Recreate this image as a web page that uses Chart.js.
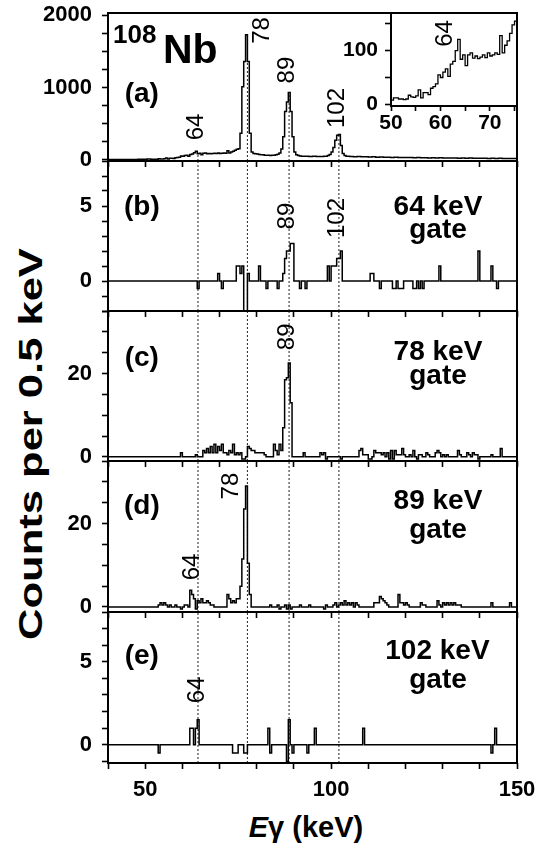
<!DOCTYPE html>
<html>
<head>
<meta charset="utf-8">
<script src="https://cdn.jsdelivr.net/npm/chart.js@4/dist/chart.umd.min.js"></script>
<style>
  body { margin: 0; background: #fff; width: 537px; height: 848px; position: relative; overflow: hidden;
         font-family: "Liberation Sans", Arial, sans-serif; }
  canvas { position: absolute; }
  #ytitle { position: absolute; left: 30px; top: 444px; white-space: nowrap; font-weight: bold; font-size: 34px;
            transform: translate(-50%, -50%) rotate(-90deg) scaleX(1.28); }
  #xtitle { position: absolute; left: 306px; top: 827px; white-space: nowrap; font-weight: bold; font-size: 29px;
            transform: translate(-50%, -50%); }
</style>
</head>
<body>
<div id="ytitle">Counts per 0.5 keV</div>
<div id="xtitle"><i>E</i>γ (keV)</div>
<script>
// gamma lines marked with dotted lines (keV)
const lineEnergies = [64.2, 77.5, 88.7, 102.1];

// (a) singles spectrum: each count holds from its edge to the next edge
const singlesEdges = [40, 42, 44, 46, 48,
  50, 50.5, 51, 51.5, 52, 52.5, 53, 53.5, 54, 54.5, 55, 55.5, 56, 56.5, 57, 57.5, 58, 58.5, 59, 59.5,
  60, 60.5, 61, 61.5, 62, 62.5, 63, 63.5, 64, 64.5, 65, 65.5, 66, 66.5, 67, 67.5, 68, 68.5, 69, 69.5,
  70, 70.5, 71, 71.5, 72, 72.5, 73, 73.5, 74, 74.5, 75, 75.5, 76, 76.5, 77, 77.5, 78, 78.5, 79, 79.5,
  80, 80.5, 81, 81.5, 82, 82.5, 83, 83.5, 84, 84.5, 85, 85.5, 86, 86.5, 87, 87.5, 88, 88.5, 89, 89.5,
  90, 90.5, 91, 91.5, 92, 92.5, 93, 94, 95, 96, 97, 98, 99, 99.5,
  100, 100.5, 101, 101.5, 102, 102.5, 103, 103.5, 104, 105, 106, 107, 108, 109,
  110, 111, 112, 113, 114, 115, 116, 117, 118, 119, 120, 121, 122, 123, 124, 125, 126, 127, 128, 129,
  130, 131, 132, 133, 134, 135, 136, 137, 138, 139, 140, 141, 142, 143, 144, 145, 146, 147, 148, 149];
const singlesCounts = [5, 6, 7, 6, 8,
  8, 12, 12, 10, 10, 9, 10, 17, 14, 13, 16, 27, 12, 22, 22, 18, 30, 33, 38, 55,
  50, 60, 66, 52, 75, 80, 100, 121, 84, 92, 72, 92, 96, 86, 90, 85, 88, 92, 87, 96,
  90, 92, 96, 93, 128, 96, 110, 118, 132, 148, 155, 370, 1010, 1360, 1730, 1360, 370, 110, 90, 85,
  80, 75, 72, 70, 66, 64, 65, 62, 63, 65, 70, 78, 95, 150, 320, 670, 800, 930, 670, 320,
  110, 70, 60, 55, 52, 50, 52, 48, 50, 46, 48, 50, 60, 75,
  110, 170, 270, 340, 350, 200, 90, 60, 50, 48, 45, 46, 42, 44,
  40, 42, 38, 40, 36, 38, 35, 36, 34, 35, 32, 34, 30, 32, 30, 31, 28, 30, 27, 29,
  26, 28, 25, 27, 24, 26, 24, 25, 22, 24, 22, 23, 21, 22, 20, 22, 20, 21, 19, 20];

// gated spectra: 0.5 keV bins (left edge) that are not zero
const gate64Bins = [64, 69.5, 70.5, 74.5, 75, 75.5, 76, 76.5, 77, 77.5, 80.5, 82.5, 85.5, 87, 87.5, 88, 88.5, 89, 89.5, 91.5,
  93, 99, 100, 100.5, 101, 101.5, 102, 102.5, 110.5, 111, 113, 116.5, 117, 118, 118.5, 119, 122, 122.5, 123.5, 124.5,
  129, 139.5, 143, 144.5];
const gate64Counts = [-0.5, 0.5, -0.5, 1, 1, 0.5, 1, -2.5, -2.5, 0.5, 1, -0.5, -0.5, 0.5, 1.5, 2, 2, 2.5, 2.5, -0.5,
  -0.5, 1, 1, 1, 1, 1.5, 1.5, 2, 0.5, 0.5, -0.5, -0.5, -0.5, -0.5, -0.5, -0.5, -0.5, -0.5, -0.5, -0.5,
  1, 2, 1, -0.5];

const gate78Bins = [59.5, 63.5, 65.5, 66, 66.5, 67, 67.5, 68, 68.5, 69, 69.5, 70, 70.5, 71, 71.5, 72, 72.5, 73, 73.5, 74,
  74.5, 75, 75.5, 76, 76.5, 77.5, 78, 78.5, 79, 79.5, 80, 80.5, 81, 81.5, 82, 84.5, 85, 85.5, 86, 86.5,
  87, 87.5, 88, 88.5, 89, 92.5, 97, 97.5, 98, 98.5, 102.5, 107.5, 108, 108.5, 109, 109.5, 110, 110.5, 111.5, 112,
  112.5, 113, 113.5, 114, 115, 115.5, 116, 116.5, 117, 117.5, 118, 118.5, 119, 119.5, 121, 122, 123, 123.5, 124, 125.5,
  126, 128, 128.5, 129, 130, 131, 134, 134.5, 136.5, 137, 138, 138.5, 139, 139.5, 143, 145.5];
const gate78Counts = [1, 0.5, 1.5, 1, 2, 1, 2.5, 1, 3, 1, 2.5, 1.5, 3, 1, 1, 0.5, 1.5, 1, 3, 0.5,
  1, 0.5, 1, -0.5, -0.5, 2.5, 2, 1.5, 1.5, 1, 1, 1, 1, 1, 0.5, 3, 1.5, 0.5, 3, 1.5,
  7, 18.5, 19, 22.5, 13, 1, 1, 0.5, 1, -0.5, -0.5, 1.5, 2, 0.5, 0.5, 0.5, -0.5, -0.5, 1.5, 1,
  1, 1, 0.5, 1, 1, -0.5, 1.5, -0.5, 1.5, 0.5, 0.5, 0.5, 2, 0.5, 0.5, 1.5, -0.5, 0.5, 0.5, 1,
  0.5, 1, 1.5, 1, 0.5, 0.5, 1.5, 0.5, 1, 0.5, 1, 0.5, 0.5, -0.5, 0.5, 2];

const gate89Bins = [53.5, 54, 54.5, 55, 55.5, 56.5, 58, 59.5, 60.5, 61, 62, 62.5, 63, 63.5, 64, 64.5, 65, 65.5, 66, 66.5,
  67, 67.5, 68, 72, 72.5, 73, 73.5, 74, 74.5, 75, 75.5, 76, 76.5, 77, 77.5, 78, 83.5, 85.5, 86, 87.5,
  88, 88.5, 89, 91.5, 94, 98, 98.5, 100.5, 101, 102, 102.5, 103, 103.5, 104, 104.5, 105, 105.5, 106.5, 107, 111.5,
  112, 112.5, 113, 113.5, 114, 114.5, 115, 118, 118.5, 119, 119.5, 120, 120.5, 124, 124.5, 125, 128.5, 129, 130, 130.5,
  131, 131.5, 132, 132.5, 133, 133.5, 134, 134.5, 143, 148];
const gate89Counts = [0.5, 1, 0.5, 1, 0.5, 0.5, 0.5, -0.5, 0.5, 0.5, 4, 3, 2, -0.5, 1.5, 1, 2, 1, 1, 1.5,
  1, 0.5, 0.5, 3, 2, 1, 1.5, 1, 2, 2, 5, 11.5, 23.5, 29, 10.5, 3, 0.5, 0.5, -0.5, 0.5,
  -0.5, 0.5, -0.5, 0.5, 0.5, -0.5, 0.5, 0.5, 1, 0.5, 1, 0.5, 1.5, 0.5, 1, 0.5, 1, 1, 0.5, 1,
  1, 1, 2.5, 2, 1.5, 1, 0.5, 3, 1, 1, 0.5, 1, 0.5, 1, 0.5, 0.5, 1.5, 0.5, 1, 0.5,
  1, 0.5, 1, 0.5, 1, 0.5, 0.5, 0.5, 1, 1];

const gate102Bins = [53.5, 62, 62.5, 63.5, 64, 73.5, 74, 74.5, 76.5, 77, 83, 83.5, 88, 88.5, 89.5, 93.5, 95.5, 108.5, 143, 144];
const gate102Counts = [-0.5, 1, 1, 1, 1.5, -0.5, -0.5, -0.5, -0.5, -0.5, 1, -0.5, -1, 1.5, -0.5, -0.5, 1, 1, -0.5, 1];

const X_MIN = 40, X_MAX = 150, BIN = 0.5;
const FONT = '"Liberation Sans", Arial, sans-serif';
Chart.defaults.font.family = FONT;
Chart.defaults.color = '#000';

function stepsFromEdges(edges, counts) {
  const pts = edges.map((e, i) => ({x: e, y: counts[i]}));
  pts.push({x: X_MAX, y: counts[counts.length - 1]});
  return pts;
}
function stepsFromBins(bins, counts) {
  const pts = [];
  for (let i = 0; i <= (X_MAX - X_MIN) / BIN; i++) {
    const e = X_MIN + i * BIN;
    const k = bins.indexOf(e);
    pts.push({x: e, y: k >= 0 ? counts[k] : 0});
  }
  return pts;
}
function countsAt(edges, counts, e) {
  let v = counts[0];
  edges.forEach((x, i) => { if (x <= e) v = counts[i]; });
  return v;
}
// tick marks every `step` inside [min, max]
function ticksEvery(step) {
  return scale => {
    const out = [];
    for (let v = Math.ceil(scale.min / step) * step; v <= scale.max + 1e-9; v += step) out.push({value: v});
    scale.ticks = out;
  };
}

const framePlugin = {
  id: 'frame',
  afterDatasetsDraw(chart) {
    const {ctx, chartArea: a} = chart;
    ctx.save();
    ctx.strokeStyle = '#000';
    ctx.lineWidth = 2;
    ctx.strokeRect(a.left, a.top, a.right - a.left, a.bottom - a.top);
    ctx.restore();
  }
};
function textPlugin(items) {
  return {
    id: 'texts',
    afterDraw(chart) {
      const ctx = chart.ctx, xs = chart.scales.x, ys = chart.scales.y;
      items.forEach(t => {
        ctx.save();
        ctx.font = t.font;
        ctx.fillStyle = '#000';
        ctx.translate(xs.getPixelForValue(t.x), ys.getPixelForValue(t.y));
        if (t.rot) ctx.rotate(-Math.PI / 2);
        ctx.textAlign = t.align || 'center';
        ctx.textBaseline = t.base || 'middle';
        ctx.fillText(t.text, 0, 0);
        ctx.restore();
      });
    }
  };
}
function placeCanvas(left, top, w, h) {
  const c = document.createElement('canvas');
  c.width = w; c.height = h;
  c.style.left = left + 'px'; c.style.top = top + 'px';
  c.style.width = w + 'px'; c.style.height = h + 'px';
  document.body.appendChild(c);
  return c;
}

const tickFont = {family: FONT, size: 22, weight: 'bold'};
const grid = {drawOnChartArea: false, drawTicks: true, tickLength: 6, tickWidth: 1.6, tickColor: '#000'};
const PEAK = 'normal 24px ' + FONT;
const TAG = 'bold 28px ' + FONT;
const PAD = 30;      // room above/below each plot box
const CW = 560;      // canvas wider than the page so the last x label never squeezes the box
const RIGHT = 517;   // right edge of every plot box

function panel(p) {
  const axisH = p.last ? 848 - p.bottom : PAD;
  const canvas = placeCanvas(0, p.top - PAD, CW, PAD + (p.bottom - p.top) + axisH);
  const markers = lineEnergies.map(e => ({
    data: [{x: e, y: p.yMin}, {x: e, y: p.markerTop ? p.markerTop(e) : p.yMax}],
    borderColor: '#333', borderWidth: 1.1, borderDash: [2, 2], pointRadius: 0, order: 1
  }));
  new Chart(canvas, {
    type: 'line',
    data: {datasets: [...markers,
      {data: p.points, stepped: true, borderColor: '#000', borderWidth: 1.5, pointRadius: 0, order: 0}]},
    options: {
      responsive: false, animation: false, devicePixelRatio: 1,
      layout: {padding: {top: PAD, right: CW - RIGHT, left: 0, bottom: 0}},
      plugins: {legend: {display: false}, tooltip: {enabled: false}},
      scales: {
        x: {
          type: 'linear', min: X_MIN, max: X_MAX,
          afterBuildTicks: ticksEvery(10),
          ticks: {display: !!p.last, font: tickFont, padding: 8, autoSkip: false, maxRotation: 0,
                  callback: v => (v % 50 === 0 ? v : '')},
          grid: grid, border: {display: false},
          afterFit: s => { s.height = axisH; }
        },
        y: {
          type: 'linear', min: p.yMin, max: p.yMax,
          afterBuildTicks: ticksEvery(p.yStep),
          ticks: {font: tickFont, padding: 10, autoSkip: false,
                  callback: v => (p.yLabels.includes(v) ? v : '')},
          grid: grid, border: {display: false},
          afterFit: s => { s.width = 108; }
        }
      }
    },
    plugins: [framePlugin, textPlugin(p.texts)]
  });
}

const singlesPts = stepsFromEdges(singlesEdges, singlesCounts);

panel({top: 13, bottom: 161, yMin: -15, yMax: 2030, yStep: 250, yLabels: [0, 1000, 2000],
  points: singlesPts, markerTop: e => countsAt(singlesEdges, singlesCounts, e),
  texts: [
    {text: '108', x: 41.34, y: 1615, font: 'bold 26px ' + FONT, align: 'left', base: 'alphabetic'},
    {text: 'Nb', x: 54.79, y: 1339, font: 'bold 41px ' + FONT, align: 'left', base: 'alphabetic'},
    {text: '(a)', x: 49.1, y: 911, font: TAG},
    {text: '64', x: 63.9, y: 455, font: PEAK, rot: true},
    {text: '78', x: 81.55, y: 1788, font: PEAK, rot: true},
    {text: '89', x: 88.28, y: 1242, font: PEAK, rot: true},
    {text: '102', x: 101.6, y: 717, font: PEAK, rot: true}
  ]});

panel({top: 161, bottom: 311, yMin: -2, yMax: 8, yStep: 1, yLabels: [0, 5],
  points: stepsFromBins(gate64Bins, gate64Counts),
  texts: [
    {text: '(b)', x: 49.1, y: 4.93, font: TAG},
    {text: '64 keV', x: 128.75, y: 4.93, font: TAG},
    {text: 'gate', x: 128.75, y: 3.35, font: TAG},
    {text: '89', x: 88.28, y: 4.33, font: PEAK, rot: true},
    {text: '102', x: 101.6, y: 4.2, font: PEAK, rot: true}
  ]});

panel({top: 311, bottom: 461, yMin: -1, yMax: 35, yStep: 5, yLabels: [0, 20],
  points: stepsFromBins(gate78Bins, gate78Counts),
  texts: [
    {text: '(c)', x: 49.1, y: 23.7, font: TAG},
    {text: '78 keV', x: 128.75, y: 25.2, font: TAG},
    {text: 'gate', x: 128.75, y: 19.4, font: TAG},
    {text: '89', x: 88.28, y: 28.8, font: PEAK, rot: true}
  ]});

panel({top: 461, bottom: 612, yMin: -1.2, yMax: 35, yStep: 5, yLabels: [0, 20],
  points: stepsFromBins(gate89Bins, gate89Counts),
  texts: [
    {text: '(d)', x: 49.1, y: 24.2, font: TAG},
    {text: '89 keV', x: 128.75, y: 25.4, font: TAG},
    {text: 'gate', x: 128.75, y: 18.5, font: TAG},
    {text: '78', x: 73.1, y: 29.0, font: PEAK, rot: true},
    {text: '64', x: 62.7, y: 9.6, font: PEAK, rot: true}
  ]});

panel({top: 612, bottom: 763, last: true, yMin: -1.1, yMax: 8, yStep: 1, yLabels: [0, 5],
  points: stepsFromBins(gate102Bins, gate102Counts),
  texts: [
    {text: '(e)', x: 49.1, y: 5.35, font: TAG},
    {text: '102 keV', x: 128.6, y: 5.65, font: TAG},
    {text: 'gate', x: 128.75, y: 3.9, font: TAG},
    {text: '64', x: 64.0, y: 3.3, font: PEAK, rot: true}
  ]});

// inset of the singles spectrum, 50-75 keV
(function inset() {
  const top = 13, bottom = 106, axisH = 35, left = 340;
  const canvas = placeCanvas(left, top - PAD, CW - left, PAD + (bottom - top) + axisH);
  const small = {family: FONT, size: 21, weight: 'bold'};
  new Chart(canvas, {
    type: 'line',
    data: {datasets: [{data: singlesPts, stepped: true, borderColor: '#000', borderWidth: 1.3, pointRadius: 0}]},
    options: {
      responsive: false, animation: false, devicePixelRatio: 1,
      layout: {padding: {top: PAD, right: CW - RIGHT, left: 0, bottom: 0}},
      plugins: {legend: {display: false}, tooltip: {enabled: false}},
      scales: {
        x: {
          type: 'linear', min: 50, max: 75.5,
          afterBuildTicks: ticksEvery(5),
          ticks: {font: small, padding: 0, autoSkip: false, maxRotation: 0,
                  callback: v => (v % 10 === 0 ? v : '')},
          grid: {...grid, tickLength: 5}, border: {display: false},
          afterFit: s => { s.height = axisH; }
        },
        y: {
          type: 'linear', min: -3, max: 170,
          afterBuildTicks: ticksEvery(50),
          ticks: {font: small, padding: 7, autoSkip: false,
                  callback: v => (v % 100 === 0 ? v : '')},
          grid: grid, border: {display: false},
          afterFit: s => { s.width = 51; }
        }
      }
    },
    plugins: [framePlugin, textPlugin([{text: '64', x: 61.1, y: 132, font: PEAK, rot: true}])]
  });
})();
</script>
</body>
</html>
